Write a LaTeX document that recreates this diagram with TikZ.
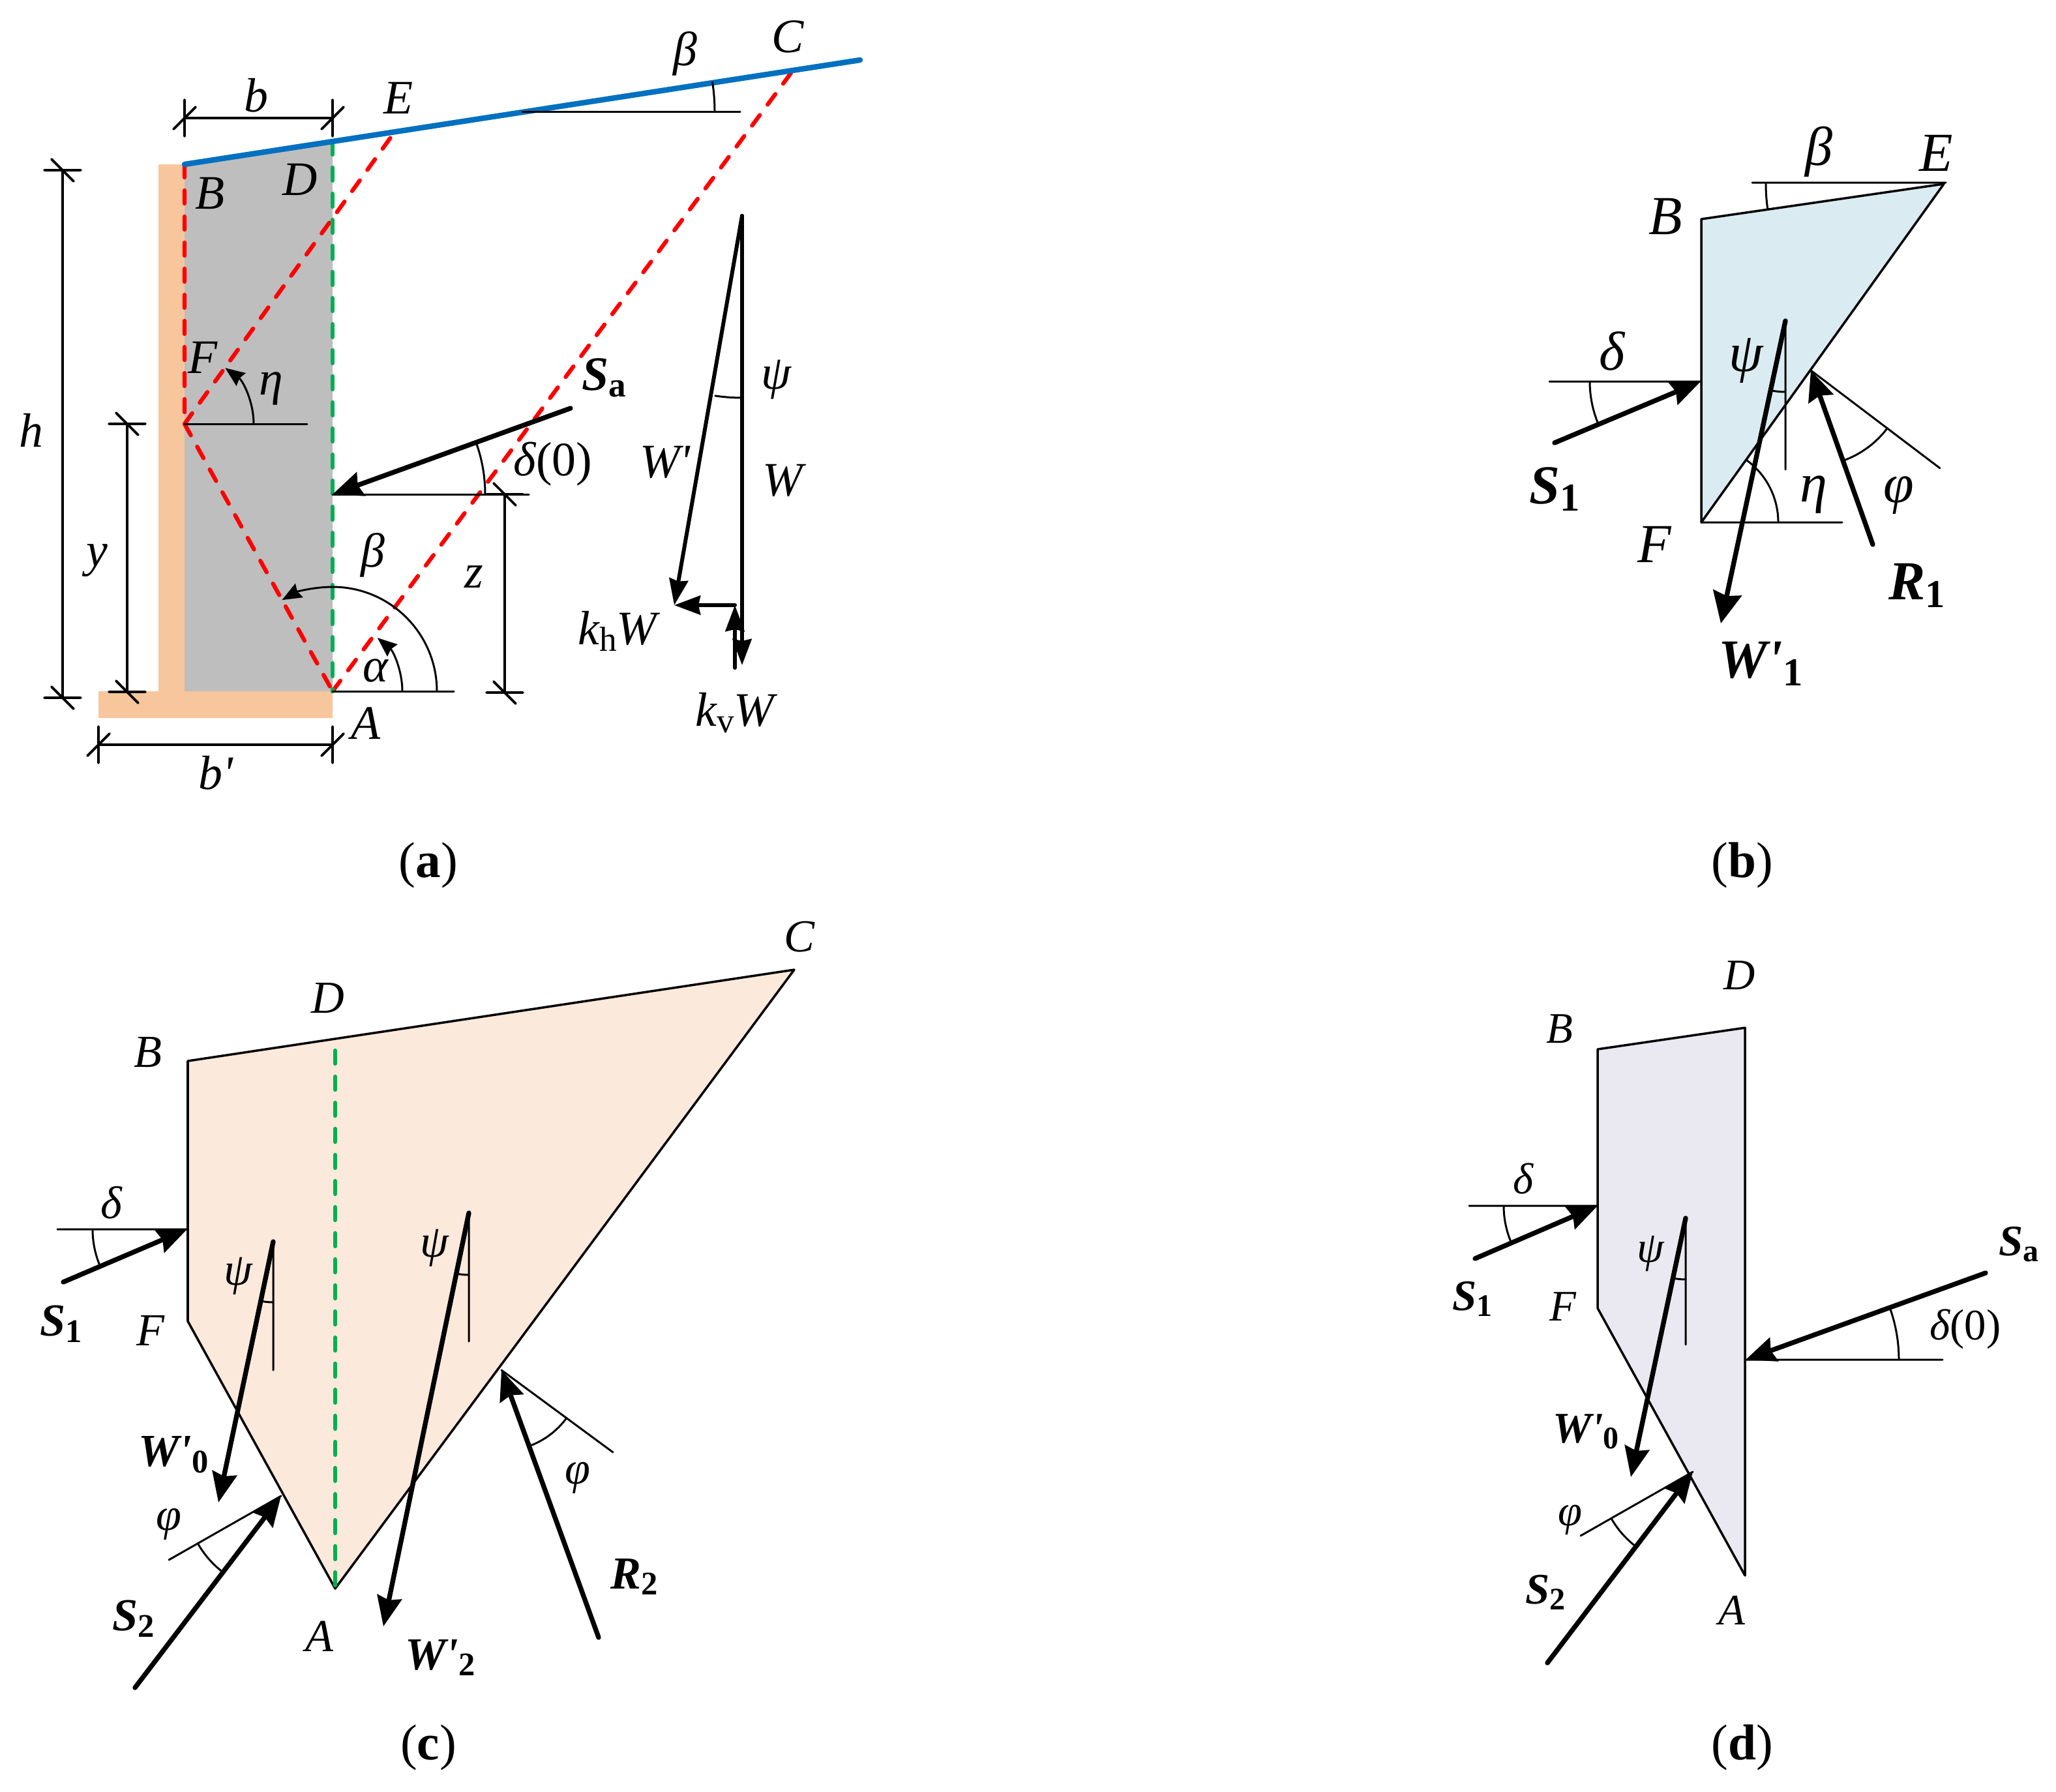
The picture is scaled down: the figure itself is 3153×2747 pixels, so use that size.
\documentclass[tikz,border=0pt]{standalone}
\usepackage{fontspec}
\setmainfont{Liberation Serif}
\usetikzlibrary{arrows.meta}
\definecolor{wallorange}{HTML}{F8C69C}
\definecolor{soilgrey}{HTML}{BEBEBE}
\definecolor{slopeblue}{HTML}{0070C0}
\definecolor{wedgeblue}{HTML}{DAECF2}
\definecolor{wedgepeach}{HTML}{FBE9DC}
\definecolor{wedgelilac}{HTML}{EAE8F0}
\definecolor{failred}{HTML}{FF0000}
\definecolor{wallgreen}{HTML}{00B050}
\newcommand{\lowsub}[1]{\raisebox{-.3ex}{\edef\subsize{\the\dimexpr.72em\relax}\fontsize{\subsize}{\subsize}\selectfont\upshape #1}}
\newcommand{\bvec}[2]{\textbf{#1\lowsub{#2}}}
\newcommand{\anglearc}[5][]{\draw[thinline,#1] ([shift={(#3:#5)}]#2) arc (#3:#4:#5);}
\tikzset{
	lab/.style={inner sep=0pt,font=\fontsize{21}{21}\selectfont\itshape},
	labb/.style={inner sep=0pt,font=\fontsize{24}{24}\selectfont\itshape},
	labc/.style={inner sep=0pt,font=\fontsize{20}{20}\selectfont\itshape},
	labd/.style={inner sep=0pt,font=\fontsize{19}{19}\selectfont\itshape},
	caption/.style={inner sep=0pt,font=\fontsize{22}{22}\selectfont},
	thinline/.style={line width=0.85pt},
	dimline/.style={line width=1.1pt},
	force/.style={line width=2.1pt,-{Stealth[inset=0.5mm,length=4.6mm,width=3.8mm]}},
	smallforce/.style={line width=1.7pt,-{Stealth[inset=0.3mm,length=4mm,width=2.9mm]}},
	slipline/.style={line width=1.8pt,dash pattern=on 2mm off 2mm},
	wedge/.style={draw,line width=1pt},
	arcarrow/.style={thinline,-{Stealth[inset=0.3mm,length=3mm,width=2.4mm]}},
	tickv/.pic={\draw[dimline] (-28,0)--(28,0) (-17,-17)--(17,17);},
	tickh/.pic={\draw[dimline] (0,-28)--(0,28) (-17,17)--(17,-17);}
}
\begin{document}
\begin{tikzpicture}[x=0.1mm,y=-0.1mm,line join=round,line cap=round]
	\useasboundingbox (0,0) rectangle (3153,2747);
	% (a)
	\coordinate (aB) at (283,252);
	\coordinate (aD) at (510,217);
	\coordinate (aE) at (604,204);
	\coordinate (aC) at (1213,112);
	\coordinate (aEnd) at (1319,92);
	\coordinate (aF) at (283,650);
	\coordinate (aA) at (510,1060);
	\coordinate (aSaT) at (875,626);
	\coordinate (aSaH) at (510,758);
	\coordinate (aWT) at (1138,331);
	\coordinate (aWH) at (1138,1020);
	\coordinate (aWp) at (1034,928);
	\coordinate (aKh) at (1127,928);
	\coordinate (aKv) at (1127,1024);
	\fill[wallorange] (243,252) -- (283,252) -- (283,1060) -- (510,1060) -- (510,1101) -- (151,1101) -- (151,1060) -- (243,1060) -- cycle;
	\fill[soilgrey] (aB) -- (aD) -- (aA) -- (283,1060) -- cycle;
	\draw[slipline,failred] (aB) -- (aF) (aF) -- (aE) (aF) -- (aA) (aA) -- (aC);
	\draw[slipline,wallgreen] (aD) -- (aA);
	\draw[line width=2.4pt,slopeblue] (aB) -- (aEnd);
	\draw[thinline] (aF) -- +(188,0) (aSaH) -- (811,758) (aA) -- +(186,0) (801,171) -- (1135,171);
	\draw[arcarrow] ([shift={(0:106)}]aF) arc (0:-54:106);
	\draw[arcarrow] ([shift={(0:160)}]aA) arc (0:-119:160);
	\draw[arcarrow] ([shift={(0:107)}]aA) arc (0:-50:107);
	\anglearc{aSaH}{0}{-20}{234}
	\anglearc{801,171}{0}{-8.8}{295}
	\anglearc{aWT}{90}{98.5}{279}
	\draw[force] (aSaT) -- (aSaH);
	\draw[smallforce] (aWT) -- (aWH);
	\draw[smallforce] (aWT) -- (aWp);
	\draw[smallforce] (aKh) -- (aWp);
	\draw[smallforce] (aKv) -- (aKh);
	% dimension lines
	\draw[dimline] (283,181) pic{tickh} -- (510,181) pic{tickh};
	\draw[dimline] (151,1142) pic{tickh} -- (510,1142) pic{tickh};
	\draw[dimline] (96,261) pic{tickv} -- (96,1070) pic{tickv};
	\draw[dimline] (195,650) pic{tickv} -- (195,1061) pic{tickv};
	\draw[dimline] (774,758) pic{tickv} -- (774,1062) pic{tickv};
	\node[lab] (la b) at (393,146) {b};
	\node[lab] (la E) at (611,150) {E};
	\node[lab] (la beta) at (1051,82) {β};
	\node[lab] (la C) at (1208,56) {C};
	\node[lab] (la B) at (322,296) {B};
	\node[lab] (la D) at (460,275) {D};
	\node[lab] (la F) at (311,548) {F};
	\node[lab] (la eta) at (416,596) {η};
	\node[lab] (la h) at (48,660) {h};
	\node[lab] (la y) at (149,859) {y};
	\node[lab] (la Sa) at (926,579) {\bvec{S}{a}};
	\node[lab] (la delta) at (848,712) {δ\upshape(0)};
	\node[lab] (la psi) at (1190,582) {ψ};
	\node[lab] (la Wp) at (1020,709) {W\textquotesingle};
	\node[lab] (la W) at (1200,737) {W};
	\node[lab] (la betab) at (572,851) {β};
	\node[lab] (la z) at (727,885) {z};
	\node[lab] (la alpha) at (576,1028) {α};
	\node[lab] (la kh) at (947,968) {k\lowsub{h}W};
	\node[lab] (la kv) at (1127,1093) {k\lowsub{v}W};
	\node[lab] (la A) at (561,1109) {A};
	\node[lab] (la bp) at (331,1185) {b\textquotesingle};
	\node[caption] (capa) at (657,1327) {(\textbf{a})};
	% (b)
	\coordinate (bB) at (2609,336);
	\coordinate (bE) at (2981,282);
	\coordinate (bF) at (2609,801);
	\coordinate (bSH) at (2608,585);
	\coordinate (bST) at (2384,679);
	\coordinate (bWT) at (2738,492);
	\coordinate (bWH) at (2639,956);
	\coordinate (bRT) at (2872,835);
	\coordinate (bRH) at (2777,568);
	\filldraw[wedge,fill=wedgeblue] (bB) -- (bE) -- (bF) -- cycle;
	\draw[thinline] (2687,280) -- (2984,280) (2376,585) -- (bSH) (bF) -- (2825,801) (bWT) -- (2738,720) (bRH) -- (2975,718);
	\anglearc{bE}{180}{171.7}{273}
	\anglearc{bSH}{180}{157.2}{170}
	\anglearc{bWT}{90}{102}{109}
	\anglearc{bF}{0}{-54.4}{118}
	\anglearc{bRH}{37}{70.4}{147}
	\draw[force] (bST) -- (bSH);
	\draw[force,-{Stealth[inset=0.5mm,length=4.8mm,width=4.4mm]}] (bWT) -- (bWH);
	\draw[force,-{Stealth[inset=0.5mm,length=4.6mm,width=4mm]}] (bRT) -- (bRH);
	\node[labb] (lb beta) at (2789,233) {β};
	\node[labb] (lb E) at (2969,235) {E};
	\node[labb] (lb B) at (2554,332) {B};
	\node[labb] (lb delta) at (2472,538) {δ};
	\node[labb] (lb psi) at (2678,553) {ψ};
	\node[labb] (lb S) at (2384,750) {\bvec{S}{1}};
	\node[labb] (lb F) at (2537,835) {F};
	\node[labb] (lb eta) at (2781,759) {η};
	\node[labb] (lb phi) at (2912,760) {φ};
	\node[labb] (lb R) at (2940,898) {\bvec{R}{1}};
	\node[labb] (lb W) at (2700,1018) {\bvec{W\textquotesingle}{1}};
	\node[caption] (capb) at (2672,1327) {(\textbf{b})};
	% (c)
	\coordinate (cB) at (288,1627);
	\coordinate (cC) at (1218,1487);
	\coordinate (cF) at (288,2026);
	\coordinate (cA) at (514,2436);
	\coordinate (cD) at (514,1611);
	\coordinate (cS1H) at (287,1885);
	\coordinate (cS1T) at (97,1966);
	\coordinate (cW0T) at (419,1904);
	\coordinate (cW0H) at (335,2304);
	\coordinate (cW2T) at (719,1860);
	\coordinate (cW2H) at (588,2494);
	\coordinate (cS2T) at (207,2588);
	\coordinate (cS2H) at (431,2294);
	\coordinate (cRT) at (918,2511);
	\coordinate (cRH) at (769,2101);
	\filldraw[wedge,fill=wedgepeach] (cB) -- (cC) -- (cA) -- (cF) -- cycle;
	\draw[slipline,wallgreen] (cD) -- (cA);
	\draw[thinline] (88,1885) -- (cS1H) (cW0T) -- (419,2101) (cW2T) -- (719,2057) (259,2392) -- (cS2H) (cRH) -- (940,2227);
	\anglearc{cS1H}{180}{156.9}{145}
	\anglearc{cW0T}{90}{101.9}{93}
	\anglearc{cW2T}{90}{101.7}{95}
	\anglearc{cS2H}{150.3}{127.3}{147}
	\anglearc{cRH}{36.4}{70}{124}
	\draw[force] (cS1T) -- (cS1H);
	\draw[force] (cW0T) -- (cW0H);
	\draw[force] (cW2T) -- (cW2H);
	\draw[force] (cS2T) -- (cS2H);
	\draw[force] (cRT) -- (cRH);
	\node[labc] (lc D) at (503,1531) {D};
	\node[labc] (lc C) at (1226,1437) {C};
	\node[labc] (lc B) at (227,1614) {B};
	\node[labc] (lc delta) at (171,1844) {δ};
	\node[labc] (lc psia) at (365,1957) {ψ};
	\node[labc] (lc psib) at (666,1914) {ψ};
	\node[labc] (lc S1) at (94,2030) {\bvec{S}{1}};
	\node[labc] (lc F) at (231,2040) {F};
	\node[labc] (lc W0) at (266,2231) {\bvec{W\textquotesingle}{0}};
	\node[labc] (lc phia) at (259,2337) {φ};
	\node[labc] (lc phib) at (886,2266) {φ};
	\node[labc] (lc S2) at (205,2482) {\bvec{S}{2}};
	\node[labc] (lc R2) at (973,2418) {\bvec{R}{2}};
	\node[labc] (lc A) at (490,2509) {A};
	\node[labc] (lc W2) at (675,2542) {\bvec{W\textquotesingle}{2}};
	\node[caption] (capc) at (657,2680) {(\textbf{c})};
	% (d)
	\coordinate (dB) at (2450,1609);
	\coordinate (dD) at (2676,1576);
	\coordinate (dA) at (2676,2416);
	\coordinate (dF) at (2450,2006);
	\coordinate (dS1H) at (2450,1849);
	\coordinate (dS1T) at (2262,1930);
	\coordinate (dWT) at (2585,1868);
	\coordinate (dWH) at (2501,2265);
	\coordinate (dS2T) at (2373,2550);
	\coordinate (dS2H) at (2596,2257);
	\coordinate (dSaT) at (3045,1952);
	\coordinate (dSaH) at (2677,2085);
	\filldraw[wedge,fill=wedgelilac] (dB) -- (dD) -- (dA) -- (dF) -- cycle;
	\draw[thinline] (2253,1849) -- (dS1H) (dWT) -- (2585,2062) (2424,2355) -- (dS2H) (dSaH) -- (2979,2085);
	\anglearc{dS1H}{180}{156.7}{144}
	\anglearc{dWT}{90}{101.9}{94}
	\anglearc{dS2H}{150.3}{127.3}{144}
	\anglearc{dSaH}{0}{-19.9}{235}
	\draw[force] (dS1T) -- (dS1H);
	\draw[force] (dWT) -- (dWH);
	\draw[force] (dS2T) -- (dS2H);
	\draw[force] (dSaT) -- (dSaH);
	\node[labd] (ld D) at (2668,1496) {D};
	\node[labd] (ld B) at (2392,1578) {B};
	\node[labd] (ld delta) at (2336,1807) {δ};
	\node[labd] (ld psi) at (2531,1922) {ψ};
	\node[labd] (ld S1) at (2258,1992) {\bvec{S}{1}};
	\node[labd] (ld F) at (2397,2004) {F};
	\node[labd] (ld Sa) at (3096,1908) {\bvec{S}{a}};
	\node[labd] (ld delta0) at (3014,2038) {δ\upshape(0)};
	\node[labd] (ld W0) at (2432,2195) {\bvec{W\textquotesingle}{0}};
	\node[labd] (ld phi) at (2408,2331) {φ};
	\node[labd] (ld S2) at (2370,2442) {\bvec{S}{2}};
	\node[labd] (ld A) at (2656,2469) {A};
	\node[caption] (capd) at (2672,2680) {(\textbf{d})};
\end{tikzpicture}
\end{document}
